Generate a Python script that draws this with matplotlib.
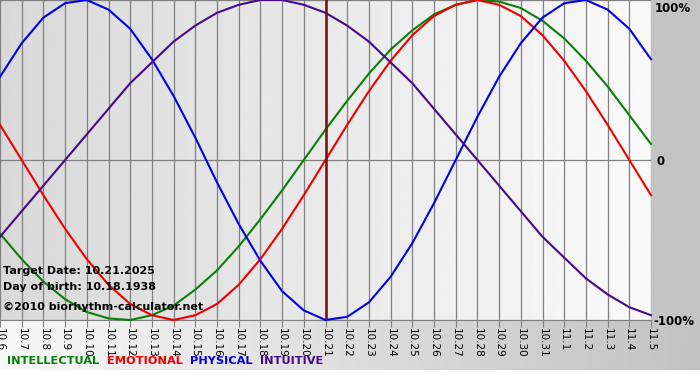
import numpy as np
import matplotlib
matplotlib.use("Agg")
import matplotlib.pyplot as plt

# day labels, 10.6 .. 11.5
days = ['10.6', '10.7', '10.8', '10.9', '10.10', '10.11', '10.12', '10.13', '10.14', '10.15',
        '10.16', '10.17', '10.18', '10.19', '10.20', '10.21', '10.22', '10.23', '10.24', '10.25',
        '10.26', '10.27', '10.28', '10.29', '10.30', '10.31', '11.1', '11.2', '11.3', '11.4', '11.5']
target_day = '10.21'

# cycle values (-1 .. 1) per day
physical = [0.52, 0.73, 0.89, 0.98, 1.00, 0.94, 0.82, 0.63, 0.40, 0.14, -0.14, -0.40, -0.63, -0.82,
            -0.94, -1.00, -0.98, -0.89, -0.73, -0.52, -0.27, 0.00, 0.27, 0.52, 0.73, 0.89, 0.98,
            1.00, 0.94, 0.82, 0.63]
emotional = [0.22, 0.00, -0.22, -0.43, -0.62, -0.78, -0.90, -0.97, -1.00, -0.97, -0.90, -0.78,
             -0.62, -0.43, -0.22, 0.00, 0.22, 0.43, 0.62, 0.78, 0.90, 0.97, 1.00, 0.97, 0.90,
             0.78, 0.62, 0.43, 0.22, 0.00, -0.22]
intellectual = [-0.46, -0.62, -0.76, -0.87, -0.95, -0.99, -1.00, -0.97, -0.91, -0.81, -0.69, -0.54,
                -0.37, -0.19, 0.00, 0.19, 0.37, 0.54, 0.69, 0.81, 0.91, 0.97, 1.00, 0.99, 0.95,
                0.87, 0.76, 0.62, 0.46, 0.28, 0.10]
intuitive = [-0.48, -0.32, -0.16, 0.00, 0.16, 0.32, 0.48, 0.61, 0.74, 0.84, 0.92, 0.97, 1.00, 1.00,
             0.97, 0.92, 0.84, 0.74, 0.61, 0.48, 0.32, 0.16, 0.00, -0.16, -0.32, -0.48, -0.61,
             -0.74, -0.84, -0.92, -0.97]

series = [('INTELLECTUAL', intellectual, '#0a7d0a'),
          ('EMOTIONAL', emotional, '#f00000'),
          ('PHYSICAL', physical, '#0000e6'),
          ('INTUITIVE', intuitive, '#48088a')]
info = ['Target Date: 10.21.2025', 'Day of birth: 10.18.1938', '\u00a92010 biorhythm-calculator.net']

W, H = 700, 380
fig = plt.figure(figsize=(7, 3.8), dpi=100)
fig.patch.set_facecolor('white')

# background pieces (right margin + bottom gradient)
bg = fig.add_axes([0, 0, 1, 1], zorder=-5)
bg.set_xlim(0, W)
bg.set_ylim(H, 0)
bg.axis('off')
grad = np.linspace(0.97, 0.76, 256).reshape(1, -1)
bg.imshow(grad, cmap='gray', vmin=0, vmax=1, extent=(0, W, 370, 320), aspect='auto')
bg.fill_between([651, W], 0, 320, color='#c3c3c3', lw=0)

# plot area
ax = fig.add_axes([0, 1 - 320 / H, 651 / W, 320 / H])
x = np.arange(len(days))
ax.set_xlim(0, len(days) - 1)
ax.set_ylim(-1, 1)
pg = np.linspace(0.85, 0.98, 256).reshape(1, -1)
ax.imshow(pg, cmap='gray', vmin=0, vmax=1, extent=(0, len(days) - 1, -1, 1),
          aspect='auto', zorder=0)

ax.set_xticks(x)
ax.set_xticklabels(days, rotation=270, fontsize=7.5)
ax.set_yticks([-1, 0, 1])
ax.tick_params(axis='x', direction='out', length=5, color='#808080', pad=1)
ax.tick_params(axis='y', length=0, labelleft=False)
ax.grid(True, color='#808080', lw=0.9, zorder=1)
for s in ['top', 'left', 'right']:
    ax.spines[s].set_visible(False)
ax.spines['bottom'].set_color('#808080')

for name, vals, col in series:
    ax.plot(x, vals, color=col, lw=1.5, zorder=3, clip_on=False)

ax.axvline(days.index(target_day), color='#7a0a0a', lw=1.8, zorder=4)

# right side labels
ax.text(1.006, 0.995, '100%', transform=ax.transAxes, fontsize=8.5, fontweight='bold', va='top')
ax.text(1.008, 0.495, '0', transform=ax.transAxes, fontsize=8.5, fontweight='bold', va='center')
ax.text(1.003, -0.005, '-100%', transform=ax.transAxes, fontsize=8.5, fontweight='bold', va='center')

# info texts lower left
for i, t in enumerate(info):
    ax.text(0.004, [0.153, 0.103, 0.041][i], t, transform=ax.transAxes, fontsize=8,
            fontweight='bold', va='center', zorder=5)

# legend row of coloured words
prev = None
for name, vals, col in series:
    if prev is None:
        prev = fig.text(7 / W, 1 - 361 / H, name, color=col, fontsize=8.2, fontweight='bold', va='center')
    else:
        prev = bg.annotate(name, xy=(1, 0), xycoords=prev, xytext=(5.5, 0), textcoords='offset points',
                           color=col, fontsize=8.2, fontweight='bold', va='bottom')

fig.savefig('out.png', dpi=100)
